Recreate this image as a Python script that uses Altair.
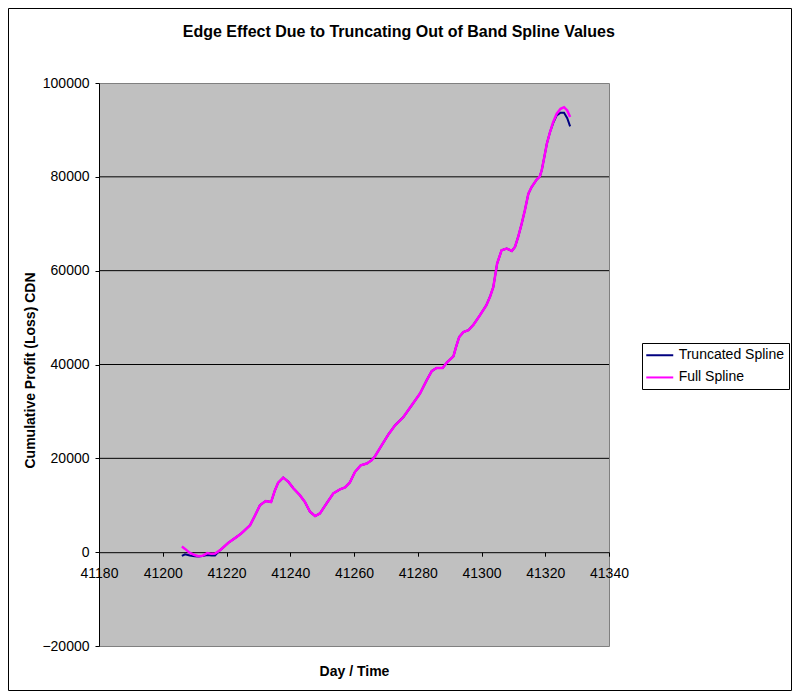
import altair as alt
import pandas as pd

# ---- data ----
days = [41206.0, 41207.0, 41208.5, 41210.0, 41211.2, 41212.4, 41214.0, 41215.3, 41216.4, 41218.0,
        41220.6, 41223.2, 41224.8, 41227.4, 41229.0, 41230.5, 41232.3, 41234.0, 41235.2, 41236.2,
        41237.8, 41239.4, 41241.0, 41243.0, 41244.6, 41246.2, 41247.8, 41249.3, 41251.4, 41253.5,
        41255.6, 41257.2, 41258.7, 41260.3, 41262.1, 41264.0, 41265.5, 41266.6, 41268.7, 41270.8,
        41272.9, 41275.5, 41278.1, 41280.7, 41282.8, 41284.4, 41285.9, 41287.8, 41289.1, 41291.2,
        41292.0, 41293.0, 41294.3, 41295.9, 41297.5, 41299.5, 41301.5, 41302.7, 41303.7, 41304.9,
        41306.3, 41307.9, 41309.5, 41310.5, 41311.5, 41312.6, 41313.6, 41314.7, 41315.7, 41317.3,
        41318.3, 41318.9, 41319.7, 41320.5, 41321.5, 41322.5, 41323.6, 41324.8, 41325.9, 41326.9,
        41327.8]

full_spline = [1200, 700, -150, -600, -850, -780, -200, -360, -280, 430,
               2000, 3260, 4100, 5750, 7900, 10000, 10900, 10700, 13200, 14800,
               15900, 15000, 13600, 12150, 10700, 8600, 7700, 8250, 10400, 12500,
               13400, 13800, 14850, 17100, 18500, 18900, 19600, 20450, 22800, 25100,
               27050, 28800, 31300, 33800, 36650, 38600, 39250, 39250, 40400, 41750,
               43700, 45850, 46900, 47300, 48500, 50500, 52600, 54500, 56500, 61500,
               64350, 64700, 64200, 65050, 67200, 70000, 72850, 76400, 77800, 79400,
               80100, 81400, 84200, 87050, 89550, 91700, 93450, 94500, 94850, 94150,
               92750]

truncated_spline = [-800, -450, -700, -850, -900, -800, -600, -700, -700, 430,
                    2000, 3260, 4100, 5750, 7900, 10000, 10900, 10700, 13200, 14800,
                    15900, 15000, 13600, 12150, 10700, 8600, 7700, 8250, 10400, 12500,
                    13400, 13800, 14850, 17100, 18500, 18900, 19600, 20450, 22800, 25100,
                    27050, 28800, 31300, 33800, 36650, 38600, 39250, 39250, 40400, 41750,
                    43700, 45850, 46900, 47300, 48500, 50500, 52600, 54500, 56500, 61500,
                    64350, 64700, 64200, 65050, 67200, 70000, 72850, 76400, 77800, 79400,
                    80100, 81400, 84200, 87050, 89550, 91500, 93100, 93650, 93650, 92500,
                    90750]

series_names = ["Truncated Spline", "Full Spline"]
series_colors = ["#000080", "#FF00FF"]
x_ticks = [41180, 41200, 41220, 41240, 41260, 41280, 41300, 41320, 41340]
y_ticks = [-20000, 0, 20000, 40000, 60000, 80000, 100000]
grid_values = [20000, 40000, 60000, 80000]

FONT = "Liberation Sans"

df = pd.DataFrame({
    "day": days + days,
    "value": truncated_spline + full_spline,
    "series": [series_names[0]] * len(days) + [series_names[1]] * len(days),
})
grid_df = pd.DataFrame({"value": grid_values})

x_scale = alt.Scale(domain=[41180, 41340], nice=False, zero=False)
y_scale = alt.Scale(domain=[-20000, 100000], nice=False, zero=False)

y_axis = alt.Axis(values=y_ticks, format="d", grid=False,
                  domainColor="black", domainWidth=1, tickColor="black", tickSize=4,
                  labelFont=FONT, labelFontSize=14, labelColor="black", labelPadding=6,
                  title="Cumulative Profit (Loss) CDN", titleFont=FONT, titleFontSize=14,
                  titleFontWeight="bold", titleColor="black", titleAngle=270,
                  titleX=-69, titleY=287, titleBaseline="middle", titleAlign="center")
x_axis = alt.Axis(values=x_ticks, format="d", grid=False, offset=-93.8,
                  domainColor="black", domainWidth=1, tickColor="black", tickSize=4,
                  labelFont=FONT, labelFontSize=14, labelColor="black", labelPadding=10,
                  labelFlush=False, labelOverlap=False,
                  title="Day / Time", titleFont=FONT, titleFontSize=14,
                  titleFontWeight="bold", titleColor="black",
                  titleX=255, titleY=119, titleBaseline="middle", titleAlign="center")

y_enc = alt.Y("value:Q", scale=y_scale, axis=y_axis)
x_enc = alt.X("day:Q", scale=x_scale, axis=x_axis)
color_enc = alt.Color("series:N",
                      scale=alt.Scale(domain=series_names, range=series_colors),
                      title=None,
                      legend=alt.Legend(orient="none", legendX=543, legendY=260,
                                        strokeColor="black", fillColor="white", padding=4.25,
                                        symbolType="M-2,0L2,0", symbolSize=182,
                                        symbolOffset=5.5, symbolStrokeWidth=2,
                                        labelFont=FONT, labelFontSize=14, labelColor="black",
                                        labelOffset=10.9, rowPadding=7.2))

border = alt.Chart(pd.DataFrame({"k": [1]})).mark_rect(
    fill="transparent", stroke="black", strokeWidth=1
).encode(x=alt.value(-90.5), x2=alt.value(692.5), y=alt.value(-74.5), y2=alt.value(607.5))

grid = alt.Chart(grid_df).mark_rule(color="black", strokeWidth=1).encode(y=y_enc)

trunc = alt.Chart(df).transform_filter(
    alt.datum.series == series_names[0]
).mark_line(strokeWidth=2).encode(x=x_enc, y=y_enc, color=color_enc)

full = alt.Chart(df).transform_filter(
    alt.datum.series == series_names[1]
).mark_line(strokeWidth=2.5).encode(x=x_enc, y=y_enc, color=color_enc)

chart = alt.layer(border, grid, trunc, full).properties(
    width=510, height=563,
    padding={"left": 91, "top": 75, "right": 183, "bottom": 45},
    autosize=alt.AutoSizeParams(type="none"),
    background="white",
    title=alt.Title("Edge Effect Due to Truncating Out of Band Spline Values",
                    font=FONT, fontSize=16, fontWeight="bold", color="black",
                    anchor="middle", frame="group", dx=44.8, offset=0, dy=45,
                    baseline="alphabetic"),
).configure_view(fill="#C0C0C0", stroke="#808080", strokeWidth=1)

chart.save("out.html", embed_options={"renderer": "svg", "actions": False})
